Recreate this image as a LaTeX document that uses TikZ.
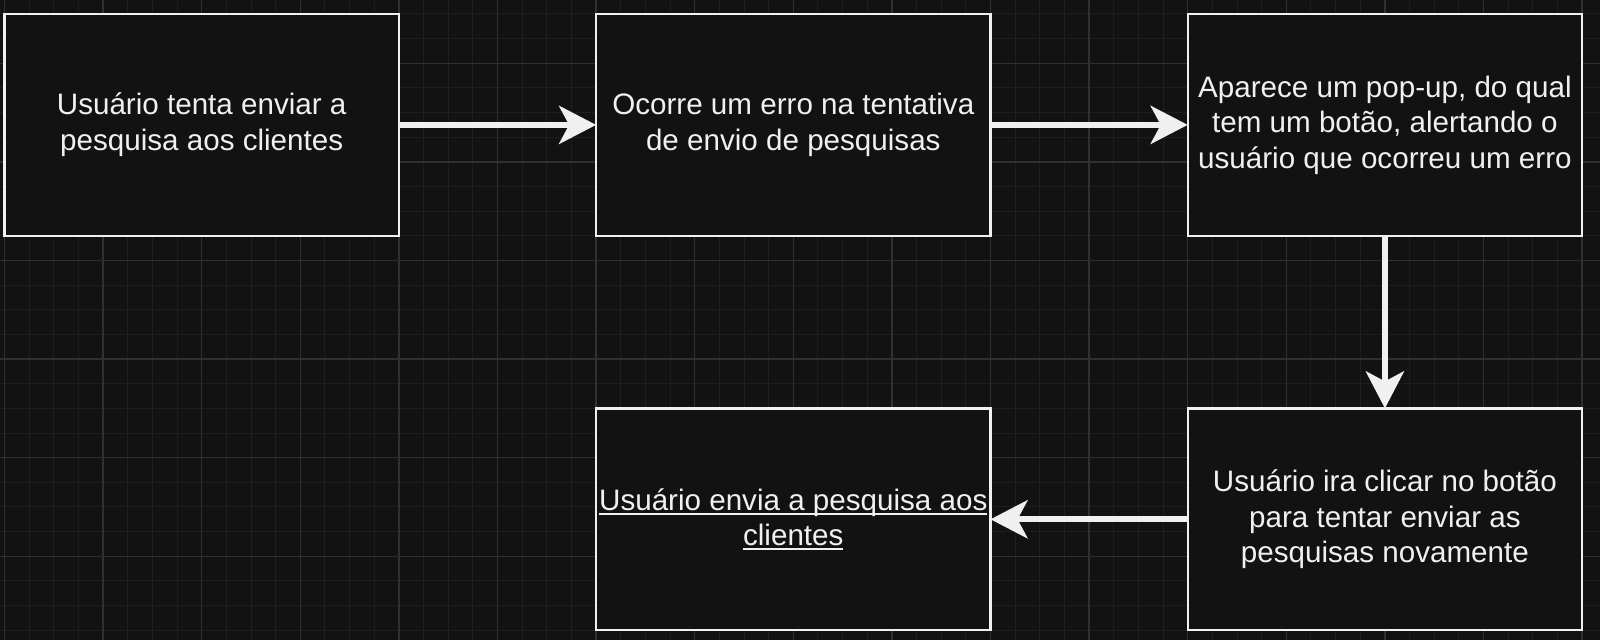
\documentclass[tikz,border=0pt]{standalone}
\usepackage{fontspec}
\setmainfont{Liberation Sans}
\usetikzlibrary{positioning,arrows.meta}
\definecolor{canvas}{HTML}{121212}
\definecolor{gridfine}{HTML}{1E1E1E}
\definecolor{gridbold}{HTML}{303030}
\definecolor{ink}{HTML}{F0F0F0}
\newcommand{\ultext}[1]{\setbox0\hbox{#1}\rlap{\rule[-2.2pt]{\wd0}{1pt}}\box0}

\begin{document}
\begin{tikzpicture}[semithick,node distance=86.3pt and 98.6pt,
  box/.style={draw=ink,line width=1.2pt,fill=canvas,text=ink,outer sep=0pt,
    inner xsep=1pt,minimum width=197.2pt,minimum height=110.9pt,align=center,
    font=\fontsize{14.8pt}{17.76pt}\selectfont},
  flow/.style={color=ink,line width=3pt,-{Stealth[length=18.5pt,width=19pt,inset=5pt]}}]
  \useasboundingbox (-2.25pt,-313pt) rectangle (797.75pt,7pt);
  \fill[canvas] (-2.25pt,-313pt) rectangle (797.75pt,7pt);
  \draw[gridfine,line width=0.5pt,step=12.325pt] (-2.25pt,-313pt) grid (797.75pt,7pt);
  \begin{scope}[yshift=-24.65pt]
    \draw[gridbold,line width=0.7pt,step=49.3pt] (-2.25pt,-288.35pt) grid (797.75pt,31.65pt);
  \end{scope}
  \node[box,anchor=north west] (try) at (0,0) {Usuário tenta enviar a\\pesquisa aos clientes};
  \node[box,right=of try] (fail) {Ocorre um erro na tentativa\\de envio de pesquisas};
  \node[box,right=of fail] (popup) {Aparece um pop-up, do qual\\tem um botão, alertando o\\usuário que ocorreu um erro};
  \node[box,below=of popup] (retry) {Usuário ira clicar no botão\\para tentar enviar as\\pesquisas novamente};
  \node[box,left=of retry] (sent) {\ultext{Usuário envia a pesquisa aos}\\\ultext{clientes}};
  \path[flow] (try) edge (fail);
  \path[flow] (fail) edge (popup);
  \path[flow] (popup) edge (retry);
  \path[flow] (retry) edge (sent);
\end{tikzpicture}
\end{document}
